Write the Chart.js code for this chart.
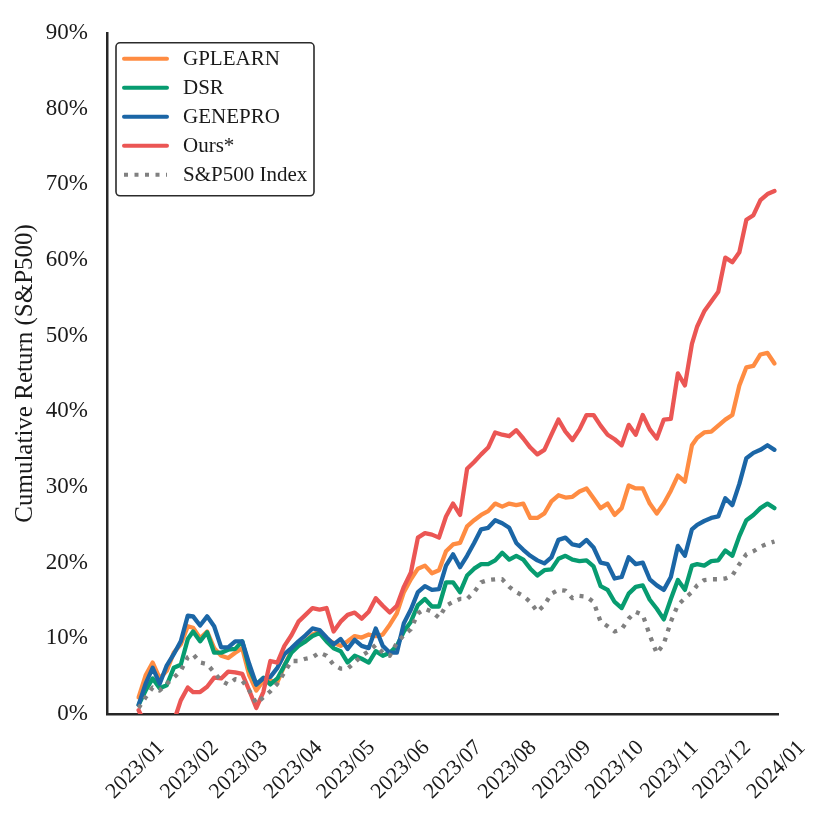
<!DOCTYPE html>
<html>
<head>
<meta charset="utf-8">
<script src="https://cdn.jsdelivr.net/npm/chart.js@4.4.1/dist/chart.umd.min.js"></script>
<style>
  html, body { margin: 0; padding: 0; background: #fff; }
  #wrap { width: 831px; height: 818px; }
</style>
</head>
<body>
<div id="wrap"><canvas id="returnChart" width="831" height="818"></canvas></div>
<script>
// days since 2023-01-01
const days = [1, 5, 9, 13, 17, 21, 25, 29, 32, 36, 40, 44, 48, 52, 56, 60, 64, 68, 72, 76,
  80, 84, 88, 92, 96, 100, 104, 108, 112, 116, 120, 124, 128, 132, 136, 140, 144, 148, 152, 156,
  160, 164, 168, 172, 176, 180, 184, 188, 192, 196, 200, 204, 208, 212, 216, 220, 224, 228, 232, 236,
  240, 244, 248, 252, 256, 260, 264, 268, 272, 276, 280, 284, 288, 292, 296, 300, 304, 308, 312, 316,
  319, 323, 327, 331, 335, 339, 343, 347, 351, 355, 359, 363];

// cumulative return in %
const gplearn = [2.2, 5.1, 6.8, 4.7, 5.7, 8.1, 9.2, 11.6, 11.4, 10.0,
  10.9, 8.7, 7.7, 7.4, 8.1, 8.7, 5.1, 3.1, 4.4, 4.4,
  4.2, 6.4, 8.3, 9.2, 9.6, 10.5, 10.9, 9.9, 9.4, 9.0,
  9.6, 10.3, 10.1, 10.5, 10.3, 10.5, 11.8, 13.3, 16.1, 17.8,
  19.2, 19.6, 18.6, 19.0, 21.5, 22.4, 22.6, 24.8, 25.6, 26.3,
  26.8, 27.8, 27.4, 27.8, 27.6, 27.8, 25.9, 25.9, 26.5, 28.1,
  28.9, 28.6, 28.7, 29.4, 29.8, 28.5, 27.2, 27.8, 26.3, 27.2,
  30.2, 29.8, 29.8, 27.8, 26.5, 27.8, 29.5, 31.5, 30.7, 35.5,
  36.5, 37.2, 37.3, 38.1, 38.9, 39.5, 43.4, 45.8, 46.0, 47.5,
  47.7, 46.3];
const dsr = [1.2, 3.1, 4.7, 3.4, 3.8, 6.1, 6.5, 9.9, 10.9, 9.6,
  10.8, 8.1, 8.1, 8.5, 8.6, 9.6, 6.0, 3.9, 4.8, 3.9,
  4.7, 6.4, 8.1, 9.0, 9.6, 10.3, 10.7, 9.6, 8.7, 8.3,
  6.8, 7.7, 7.3, 6.8, 8.3, 7.7, 8.1, 9.0, 10.9, 12.2,
  14.4, 15.2, 14.2, 14.2, 17.4, 17.4, 16.1, 18.3, 19.2, 19.8,
  19.8, 20.3, 21.3, 20.4, 20.9, 20.4, 19.2, 18.3, 19.0, 19.1,
  20.5, 20.9, 20.4, 20.2, 20.3, 19.5, 16.9, 16.4, 14.8, 14.0,
  15.9, 16.8, 17.0, 15.1, 13.9, 12.5, 15.2, 17.7, 16.4, 19.6,
  19.8, 19.6, 20.2, 20.3, 21.6, 20.9, 23.5, 25.6, 26.3, 27.2,
  27.8, 27.2];
const genepro = [1.2, 4.0, 6.1, 4.0, 6.4, 7.9, 9.6, 13.0, 12.9, 11.7,
  12.9, 11.6, 8.8, 8.8, 9.6, 9.6, 6.6, 3.9, 4.7, 4.9,
  6.1, 7.9, 8.7, 9.6, 10.4, 11.3, 11.1, 10.1, 9.2, 9.9,
  8.6, 9.8, 9.0, 8.7, 11.3, 9.0, 8.1, 8.1, 12.0, 13.8,
  16.1, 16.9, 16.4, 16.5, 19.6, 21.1, 19.4, 20.9, 22.6, 24.4,
  24.6, 25.6, 25.2, 24.6, 22.6, 21.7, 20.9, 20.3, 19.9, 20.7,
  23.0, 23.3, 22.4, 22.2, 23.0, 22.0, 20.0, 19.8, 17.9, 18.1,
  20.7, 19.8, 20.0, 17.8, 17.0, 16.4, 18.1, 22.2, 20.9, 24.4,
  25.0, 25.5, 25.9, 26.1, 28.5, 27.6, 30.4, 33.8, 34.5, 34.9,
  35.5, 34.9];
const ours = [0.5, -1.4, -2.7, -3.4, -2.7, -1.0, 1.8, 3.5, 2.9, 2.9,
  3.6, 4.8, 4.7, 5.6, 5.5, 5.3, 3.1, 0.8, 2.9, 7.0,
  6.8, 9.0, 10.4, 12.2, 13.1, 14.0, 13.8, 14.0, 10.9, 12.2,
  13.1, 13.4, 12.6, 13.5, 15.3, 14.3, 13.4, 14.3, 16.8, 18.7,
  23.3, 23.9, 23.7, 23.3, 26.1, 27.8, 26.3, 32.4, 33.3, 34.3,
  35.2, 37.2, 36.9, 36.7, 37.5, 36.4, 35.2, 34.3, 34.9, 36.9,
  38.9, 37.3, 36.2, 37.6, 39.5, 39.5, 38.1, 36.9, 36.3, 35.5,
  38.2, 36.9, 39.5, 37.6, 36.4, 38.9, 39.0, 45.0, 43.4, 48.9,
  51.2, 53.2, 54.5, 55.8, 60.3, 59.7, 61.0, 65.3, 65.9, 67.9,
  68.7, 69.1];
const sp500 = [0.8, 2.2, 3.5, 3.1, 4.0, 4.8, 5.7, 7.5, 7.9, 6.8,
  6.6, 5.5, 4.4, 3.9, 4.6, 4.4, 3.1, 1.4, 2.2, 3.0,
  4.0, 5.5, 7.0, 7.0, 7.3, 7.5, 8.1, 7.7, 6.5, 6.0,
  6.0, 6.8, 7.7, 8.3, 9.1, 8.1, 7.7, 9.4, 10.4, 11.2,
  13.3, 13.9, 13.5, 12.7, 14.3, 14.8, 15.2, 15.2, 16.1, 17.4,
  17.7, 17.8, 17.8, 16.8, 16.1, 15.6, 14.8, 13.5, 14.4, 15.9,
  16.4, 16.3, 15.3, 15.6, 15.5, 14.8, 12.2, 11.6, 10.9, 11.2,
  12.6, 13.5, 13.1, 10.4, 8.0, 9.3, 12.2, 14.4, 15.3, 16.1,
  17.0, 17.7, 17.8, 17.8, 17.9, 18.3, 19.8, 21.1, 21.5, 22.1,
  22.5, 22.8];

const monthDays = [0, 31, 59, 90, 120, 151, 181, 212, 243, 273, 304, 334, 365];
const monthLabels = ['2023/01', '2023/02', '2023/03', '2023/04', '2023/05', '2023/06', '2023/07',
  '2023/08', '2023/09', '2023/10', '2023/11', '2023/12', '2024/01'];

const serif = "'Liberation Serif', 'Times New Roman', 'DejaVu Serif', serif";
const textColor = '#1a1a1a';

function pts(values) {
  return values.map((v, i) => ({ x: days[i], y: v }));
}

function series(label, values, color, order, dash) {
  return {
    label: label,
    data: pts(values),
    borderColor: color,
    backgroundColor: color,
    borderWidth: 4.3,
    borderDash: dash || [],
    borderJoinStyle: 'round',
    borderCapStyle: dash ? 'butt' : 'round',
    pointRadius: 0,
    tension: 0,
    order: order,
    clip: { left: 4, right: 4, top: 4, bottom: 0 }
  };
}

// legend box in the upper-left corner of the plot
const boxLegend = {
  id: 'boxLegend',
  afterDraw(chart) {
    const ctx = chart.ctx;
    const area = chart.chartArea;
    const x0 = area.left + 9, y0 = area.top + 10, w = 198, h = 153;
    ctx.save();
    ctx.beginPath();
    ctx.roundRect(x0, y0, w, h, 4);
    ctx.fillStyle = 'rgba(255,255,255,0.9)';
    ctx.fill();
    ctx.lineWidth = 1.6;
    ctx.strokeStyle = '#2b2b2b';
    ctx.stroke();
    ctx.font = '21px ' + serif;
    ctx.textBaseline = 'middle';
    ctx.fillStyle = textColor;
    chart.data.datasets.forEach((ds, i) => {
      const y = y0 + 16 + i * 29;
      ctx.beginPath();
      ctx.setLineDash(ds.borderDash);
      ctx.lineCap = ds.borderDash.length ? 'butt' : 'round';
      ctx.lineWidth = 4;
      ctx.strokeStyle = ds.borderColor;
      ctx.moveTo(x0 + 8, y);
      ctx.lineTo(x0 + 51, y);
      ctx.stroke();
      ctx.setLineDash([]);
      ctx.fillText(ds.label, x0 + 67, y + 1);
    });
    ctx.restore();
  }
};

new Chart(document.getElementById('returnChart'), {
  type: 'line',
  data: {
    datasets: [
      series('GPLEARN', gplearn, '#ff8c42', 5),
      series('DSR', dsr, '#079c70', 4),
      series('GENEPRO', genepro, '#1b66a6', 3),
      series('Ours*', ours, '#eb5654', 2),
      series('S&P500 Index', sp500, '#808080', 1, [4, 6.5])
    ]
  },
  options: {
    responsive: false,
    animation: false,
    devicePixelRatio: 1,
    layout: { padding: { top: 22, right: 53, bottom: 0, left: 0 } },
    plugins: {
      legend: { display: false },
      tooltip: { enabled: false }
    },
    scales: {
      x: {
        type: 'linear',
        min: -17,
        max: 365,
        afterFit: (s) => { s.height = 104; },
        afterBuildTicks: (s) => { s.ticks = monthDays.map(d => ({ value: d })); },
        grid: { display: false, drawTicks: false },
        border: { display: true, color: '#262626', width: 2.5 },
        ticks: {
          autoSkip: false,
          minRotation: 45,
          maxRotation: 45,
          padding: 21,
          labelOffset: 24,
          color: textColor,
          font: { family: serif, size: 22 },
          callback: (v) => monthLabels[monthDays.indexOf(v)]
        }
      },
      y: {
        min: 0,
        max: 90,
        afterFit: (s) => { s.width = 107; },
        grid: { display: false, drawTicks: false },
        border: { display: true, color: '#262626', width: 2.5 },
        ticks: {
          stepSize: 10,
          padding: 19,
          color: textColor,
          font: { family: serif, size: 23 },
          callback: (v) => v + '%'
        },
        title: {
          display: true,
          text: 'Cumulative Return (S&P500)',
          color: textColor,
          font: { family: serif, size: 25 },
          padding: { top: 10, bottom: 0 }
        }
      }
    }
  },
  plugins: [boxLegend]
});
</script>
</body>
</html>
